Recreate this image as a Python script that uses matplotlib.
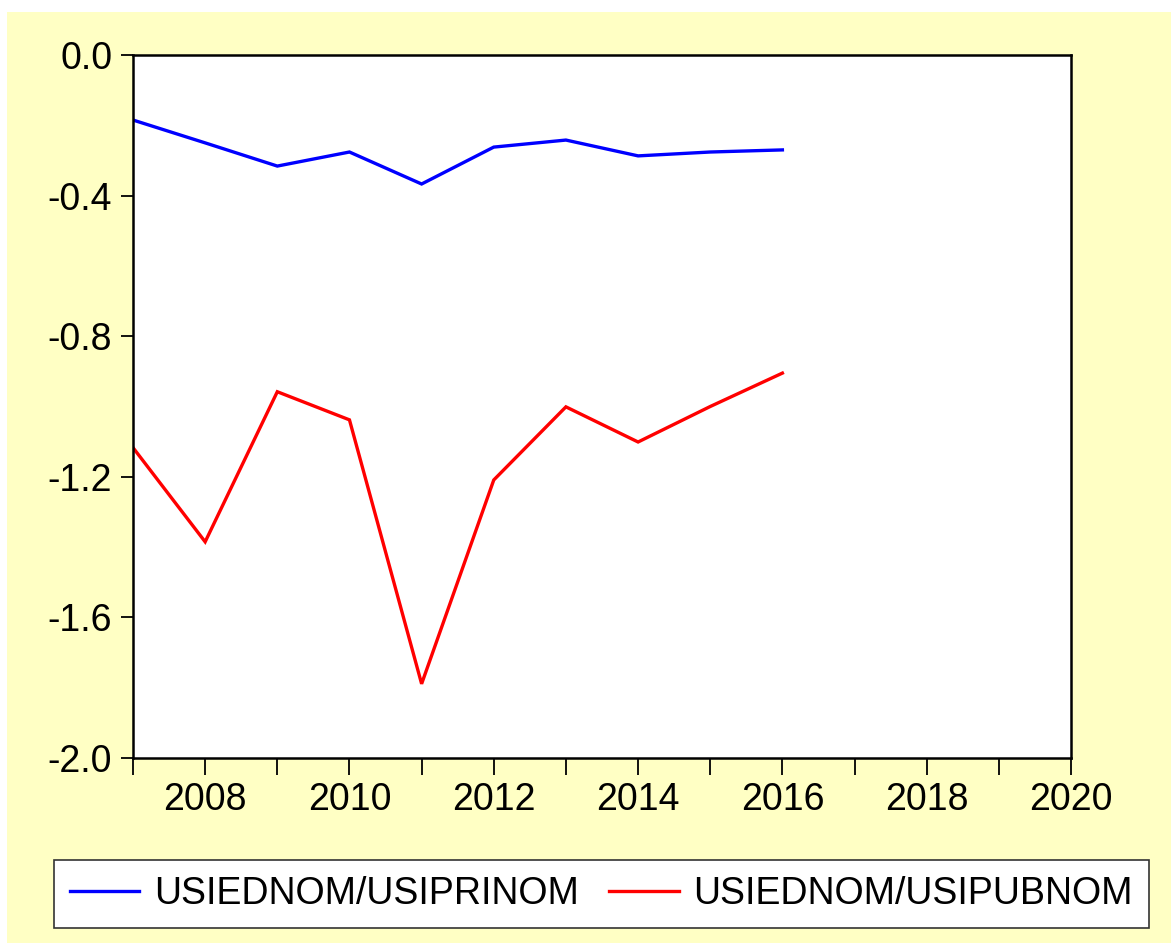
import matplotlib
matplotlib.use("Agg")
import matplotlib.pyplot as plt
from matplotlib.patches import Rectangle

plt.rcParams['font.family'] = ['Liberation Sans', 'DejaVu Sans']

years = [2007, 2008, 2009, 2010, 2011, 2012, 2013, 2014, 2015, 2016]
priv = [-0.185, -0.250, -0.316, -0.276, -0.367, -0.262, -0.242, -0.287, -0.276, -0.270]
pub = [-1.117, -1.385, -0.958, -1.038, -1.789, -1.209, -1.001, -1.101, -1.000, -0.905]
series_names = ['USIEDNOM/USIPRINOM', 'USIEDNOM/USIPUBNOM']
yticks = [0.0, -0.4, -0.8, -1.2, -1.6, -2.0]
ytick_labels = ['0.0', '-0.4', '-0.8', '-1.2', '-1.6', '-2.0']
xticks = list(range(2007, 2021))
xtick_labels = [str(y) if y % 2 == 0 else '' for y in xticks]

W, H = 1171, 943
fig = plt.figure(figsize=(W / 100, H / 100), dpi=100, facecolor='white')
bg = Rectangle((7 / W, 0), 1 - 7 / W, 1 - 12 / H, transform=fig.transFigure,
               facecolor='#FFFFC4', edgecolor='none', zorder=-10)
fig.patches.append(bg)

ax = fig.add_axes([133 / W, 1 - 758 / H, (1071 - 133) / W, (758 - 55) / H])
ax.set_facecolor('white')
l1, = ax.plot(years, priv, color='#0000FF', lw=2.4, solid_joinstyle='miter')
l2, = ax.plot(years, pub, color='#FF0000', lw=2.4, solid_joinstyle='miter')

ax.set_xlim(2007, 2020)
ax.set_ylim(-2.0, 0.0)
ax.set_xticks(xticks)
ax.set_xticklabels(xtick_labels)
ax.set_yticks(yticks)
ax.set_yticklabels(ytick_labels)
ax.tick_params(axis='x', direction='out', length=12, width=1.3, pad=5, labelsize=27)
ax.tick_params(axis='y', direction='out', length=9, width=1.3, pad=6, labelsize=27)
for s in ax.spines.values():
    s.set_linewidth(1.8)
    s.set_color('black')

leg = fig.legend([l1, l2], series_names, loc='center',
                 bbox_to_anchor=(601.5 / W, 1 - 894 / H), ncol=2, fontsize=27,
                 handlelength=1.85, handletextpad=0.4, columnspacing=0.8,
                 borderpad=0.42, borderaxespad=0, fancybox=False, frameon=True)
leg.get_frame().set_edgecolor('#333333')
leg.get_frame().set_linewidth(1.2)
leg.get_frame().set_facecolor('white')
leg.get_frame().set_alpha(1)

fig.savefig('out.png', dpi=100, facecolor=fig.get_facecolor())
